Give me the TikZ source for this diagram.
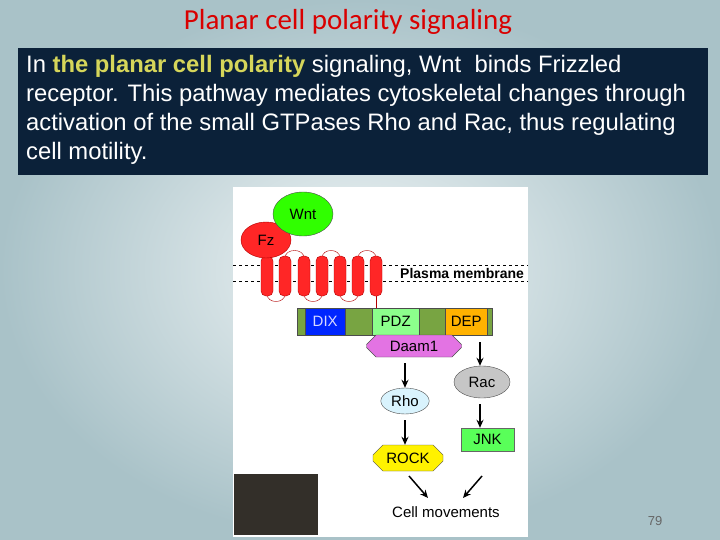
\documentclass[tikz,border=0pt]{standalone}
\usepackage{fontspec}
\setmainfont{Liberation Sans}
\newfontfamily\titlefont{Carlito}
\usetikzlibrary{shapes.geometric,shapes.misc,arrows.meta}
\definecolor{bgout}{HTML}{A9C2C8}
\definecolor{bgin}{HTML}{F0F5F6}
\definecolor{navy}{HTML}{0B2139}
\definecolor{hilite}{HTML}{D6D65A}
\definecolor{dvl}{HTML}{78A442}
\tikzset{
  lbl/.style={font=\fontsize{15}{17}\selectfont},
  blob/.style={ellipse,draw=black!70,thin,lbl},
  helix/.style={draw=red!70!black,thin,fill=red!85!white,rounded corners=5pt},
  loop/.style={draw=red!70!black,thin},
  dom/.style={draw=black!70,thin,minimum height=27pt,inner sep=0pt,lbl},
  act/.style={-{Stealth[length=8pt,width=7pt]},line width=1.5pt}
}
\begin{document}
\begin{tikzpicture}[x=1pt,y=-1pt]
  \useasboundingbox (0,0) rectangle (720,540);
  \shade[inner color=bgin,outer color=bgout] (0,0) rectangle (720,540);
  % title and caption box
  \node[text=red!85!black,font=\titlefont\fontsize{29}{32}\selectfont] (title) at (348,22) {Planar cell polarity signaling};
  \fill[navy] (18,48) rectangle (708,175);
  \node[anchor=north west,text=white,align=left,font=\fontsize{23.8}{29}\selectfont,inner sep=0pt] (caption) at (26,55)
    {In {\color{hilite}\textbf{the planar cell polarity}} signaling, Wnt\ \ binds Frizzled\\
     receptor. This pathway mediates cytoskeletal changes through\\
     activation of the small GTPases Rho and Rac, thus regulating\\
     cell motility.};
  % figure panel
  \fill[white] (233,187) rectangle (528,537);
  \fill[black!85!olive] (234,474) rectangle (318,535);
  \node[text=black!60,font=\fontsize{13}{15}\selectfont] (page) at (655,521) {79};
  % membrane
  \draw[thick,dash pattern=on 3pt off 3pt] (233,265) -- (528,265);
  \draw[thick,dash pattern=on 3pt off 3pt] (233,281) -- (528,281);
  \node[lbl,font=\bfseries\fontsize{14}{16}\selectfont,anchor=west,inner sep=0pt] (pm) at (400,273) {Plasma membrane};
  % loops of the receptor
  \foreach \a/\b in {285/304,322/340,358/376}
    \draw[loop] (\a,258) .. controls (\a,248) and (\b,248) .. (\b,258);
  \foreach \a/\b in {267/285,304/322,340/358}
    \draw[loop] (\a,294) .. controls (\a,304) and (\b,304) .. (\b,294);
  \draw[loop] (376,294) -- (376,309);
  % seven helices
  \foreach \x in {267,285,304,322,340,358,376}
    \draw[helix] (\x-6,256) rectangle (\x+6,296);
  \node[blob,fill=red!85!white,draw=red!70!black,minimum width=50pt,minimum height=36pt] (fz) at (266,240) {Fz};
  \node[blob,fill=green!75!lime,minimum width=60pt,minimum height=44pt] (wnt) at (303,214) {Wnt};
  % dishevelled
  \fill[dvl] (297,308) rectangle (492,335);
  \draw[black!70,thin] (297,308) rectangle (492,335);
  \node[dom,fill=blue!75!cyan!60!blue,minimum width=40pt,anchor=west,text=white!85!blue] (dix) at (305,321.5) {DIX};
  \node[dom,fill=green!45,minimum width=47pt,anchor=west] (pdz) at (372,321.5) {PDZ};
  \node[dom,fill=orange!60!yellow,minimum width=42pt,anchor=west] (dep) at (445,321.5) {DEP};
  \node[chamfered rectangle,chamfered rectangle xsep=6pt,draw=black!70,fill=violet!40!magenta!55,lbl,minimum width=95pt,minimum height=22pt,inner sep=1pt] (daam) at (414,346) {Daam1};
  % effectors
  \node[blob,fill=gray!45,minimum width=56pt,minimum height=32pt] (rac) at (482,382) {Rac};
  \node[blob,fill=cyan!15,minimum width=48pt,minimum height=26pt] (rho) at (405,401) {Rho};
  \node[chamfered rectangle,chamfered rectangle xsep=12pt,draw=black!70,fill=yellow,lbl,minimum width=70pt,minimum height=26pt,inner sep=1pt] (rock) at (408,458) {ROCK};
  \node[dom,fill=green!65,minimum width=53pt,minimum height=23pt,draw=black!60] (jnk) at (487.5,439.5) {JNK};
  \node[lbl] (cell) at (446,512) {Cell movements};
  \coordinate (depdown) at (480,342);
  \coordinate (rhoin) at (405,363);
  \coordinate (rockin) at (405,420);
  \coordinate (jnkin) at (480,404);
  \coordinate (rockout) at (409,476);
  \coordinate (jnkout) at (482,476);
  \draw[act] (depdown) -- (depdown |- rac.north);
  \draw[act] (rhoin) -- (rhoin |- rho.north);
  \draw[act] (rockin) -- (rockin |- rock.north);
  \draw[act] (jnkin) -- (jnkin |- jnk.north);
  \draw[act] (rockout) -- ([shift={(-18,-5)}]cell.north);
  \draw[act] (jnkout) -- ([shift={(17,-5)}]cell.north);
\end{tikzpicture}
\end{document}
